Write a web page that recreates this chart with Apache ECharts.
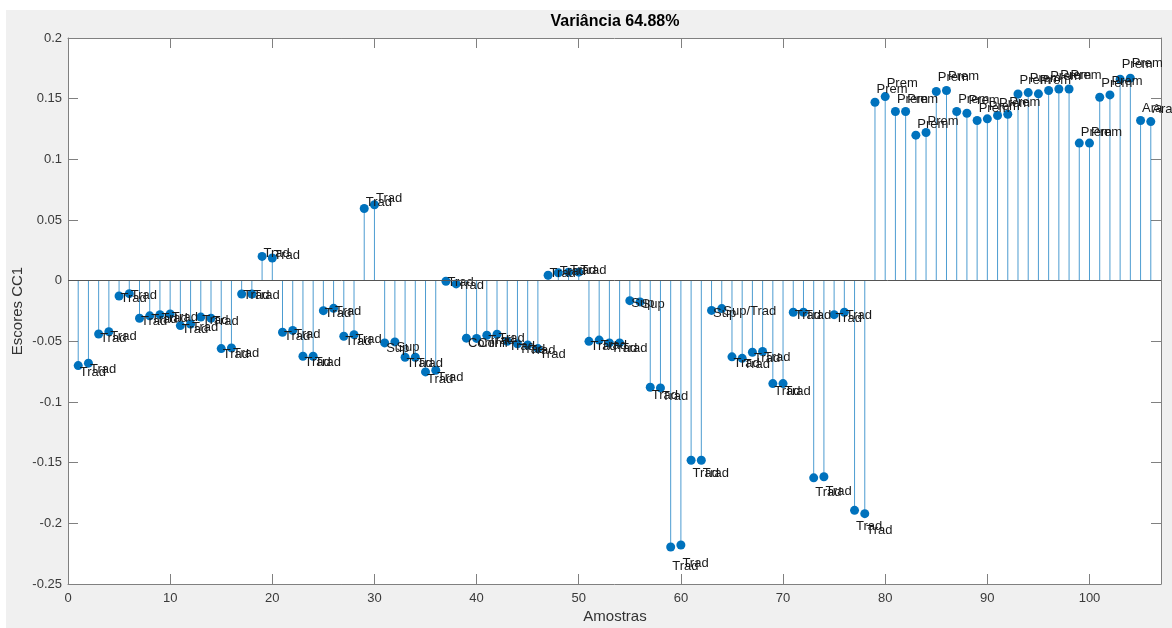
<!DOCTYPE html>
<html>
<head>
<meta charset="utf-8">
<script src="https://cdn.jsdelivr.net/npm/echarts@6/dist/echarts.min.js"></script>
<style>
  html, body { margin: 0; padding: 0; background: #fff; }
  #chart {
    width: 1172px; height: 628px;
    background: linear-gradient(#f0f0f0, #f0f0f0) 6px 10px / 1166px 618px no-repeat, #fff;
  }
</style>
</head>
<body>
<div id="chart"></div>
<script>
// CC1 scores for each of the 106 samples, in sample order
const scores = [
  -0.070, -0.068, -0.044, -0.042, -0.0126, -0.0107, -0.031, -0.029, -0.028, -0.0275,
  -0.037, -0.0357, -0.030, -0.031, -0.056, -0.0554, -0.011, -0.011, 0.020, 0.0187,
  -0.0425, -0.041, -0.0623, -0.0623, -0.0247, -0.0228, -0.0458, -0.0445, 0.0595, 0.0626,
  -0.0513, -0.0505, -0.0631, -0.0631, -0.0752, -0.0738, -0.0005, -0.0027, -0.0474, -0.0476,
  -0.045, -0.0442, -0.050, -0.052, -0.053, -0.056, 0.0045, 0.0065, 0.007, 0.007,
  -0.050, -0.049, -0.0513, -0.0513, -0.0165, -0.0175, -0.0878, -0.0884, -0.2195, -0.2179,
  -0.148, -0.148, -0.0245, -0.023, -0.0628, -0.064, -0.059, -0.0584, -0.0848, -0.0848,
  -0.026, -0.026, -0.1625, -0.1616, -0.028, -0.026, -0.1893, -0.192, 0.147, 0.1517,
  0.1394, 0.1394, 0.1199, 0.1221, 0.1559, 0.1567, 0.1394, 0.138, 0.132, 0.1334,
  0.1361, 0.1372, 0.1538, 0.155, 0.154, 0.1567, 0.158, 0.158, 0.1134, 0.1134,
  0.1512, 0.1531, 0.166, 0.1669, 0.132, 0.1311
];

// Class tag written next to each sample
const classes = [
  'Trad','Trad','Trad','Trad','Trad','Trad','Trad','Trad','Trad','Trad',
  'Trad','Trad','Trad','Trad','Trad','Trad','Trad','Trad','Trad','Trad',
  'Trad','Trad','Trad','Trad','Trad','Trad','Trad','Trad','Trad','Trad',
  'Sup','Sup','Trad','Trad','Trad','Trad','Trad','Trad','Conil','Conil',
  'Trad','Trad','Trad','Trad','Trad','Trad','Trad','Trad','Trad','Trad',
  'Trad','Trad','Trad','Trad','Sup','Sup','Trad','Trad','Trad','Trad',
  'Trad','Trad','Sup','Sup/Trad','Trad','Trad','Trad','Trad','Trad','Trad',
  'Trad','Trad','Trad','Trad','Trad','Trad','Trad','Trad','Prem','Prem',
  'Prem','Prem','Prem','Prem','Prem','Prem','Prem','Prem','Prem','Prem',
  'Prem','Prem','Prem','Prem','Prem','Prem','Prem','Prem','Prem','Prem',
  'Prem','Prem','Prem','Prem','Ara','Ara'
];

const sampleIds = scores.map((_, k) => k + 1);

const titleText = 'Variância 64.88%';
const xTitle = 'Amostras';
const yTitle = 'Escores CC1';

const FONT = 'Liberation Sans, Arial, Helvetica, sans-serif';
const STEM = '#0072BD';
const AXIS = '#808080';
const TICKTXT = '#3a3a3a';

// tags sit a little beyond the marker, further out for larger scores (pixels)
function tagShift(v) {
  const d = 1 + 82 * Math.abs(v);
  return v >= 0 ? -d : d;
}

const points = sampleIds.map((id, k) => ({
  value: [id, scores[k]],
  label: { formatter: classes[k], offset: [0, tagShift(scores[k])] }
}));
const stems = sampleIds.map((id, k) => [id, scores[k]]);

const xCommon = { type: 'value', min: 0, max: 107, interval: 10 };
const yCommon = { type: 'value', min: -0.25, max: 0.2, interval: 0.05 };
const lineCommon = { show: true, onZero: false, lineStyle: { color: AXIS, width: 1 } };
const tickCommon = { show: true, inside: true, length: 10, lineStyle: { color: AXIS, width: 1 } };

const chart = echarts.init(document.getElementById('chart'), null, { renderer: 'canvas' });
chart.setOption({
  animation: false,
  backgroundColor: 'transparent',
  grid: { left: 68, right: 11, top: 38, bottom: 44, show: true, backgroundColor: '#ffffff', borderWidth: 0 },
  xAxis: [
    Object.assign({}, xCommon, {
      position: 'bottom',
      axisLine: lineCommon, axisTick: tickCommon, splitLine: { show: false },
      axisLabel: { color: TICKTXT, fontSize: 13, fontFamily: FONT, margin: 8, showMaxLabel: false }
    }),
    Object.assign({}, xCommon, {
      position: 'top',
      axisLine: lineCommon, axisTick: tickCommon, splitLine: { show: false },
      axisLabel: { show: false }
    })
  ],
  yAxis: [
    Object.assign({}, yCommon, {
      position: 'left',
      axisLine: lineCommon, axisTick: tickCommon, splitLine: { show: false },
      axisLabel: { color: TICKTXT, fontSize: 13, fontFamily: FONT, margin: 6 }
    }),
    Object.assign({}, yCommon, {
      position: 'right',
      axisLine: lineCommon, axisTick: tickCommon, splitLine: { show: false },
      axisLabel: { show: false }
    })
  ],
  graphic: [
    { type: 'text', x: 615, y: 22, style: { text: titleText, fill: '#000', font: 'bold 16px ' + FONT, textAlign: 'center', textVerticalAlign: 'middle' } },
    { type: 'text', x: 615, y: 617, style: { text: xTitle, fill: '#333', font: '15px ' + FONT, textAlign: 'center', textVerticalAlign: 'middle' } },
    { type: 'text', x: 18, y: 311, rotation: Math.PI / 2, style: { text: yTitle, fill: '#333', font: '15px ' + FONT, textAlign: 'center', textVerticalAlign: 'middle' } }
  ],
  series: [
    {
      type: 'custom',
      name: 'stems',
      z: 2,
      data: stems,
      renderItem: function (params, api) {
        const x = api.value(0), y = api.value(1);
        const p0 = api.coord([x, 0]);
        const p1 = api.coord([x, y]);
        return {
          type: 'line',
          shape: { x1: p0[0], y1: p0[1], x2: p1[0], y2: p1[1] },
          style: { stroke: STEM, lineWidth: 1, opacity: 0.7 }
        };
      },
      markLine: {
        silent: true,
        symbol: ['none', 'none'],
        label: { show: false },
        lineStyle: { color: '#555', width: 1, type: 'solid' },
        data: [{ yAxis: 0 }]
      }
    },
    {
      type: 'scatter',
      name: 'CC1',
      z: 3,
      symbol: 'circle',
      symbolSize: 9,
      itemStyle: { color: STEM, opacity: 1 },
      label: {
        show: true,
        position: 'right',
        distance: -3,
        color: '#1a1a1a',
        fontSize: 13,
        fontFamily: FONT
      },
      data: points
    }
  ]
});
</script>
</body>
</html>
